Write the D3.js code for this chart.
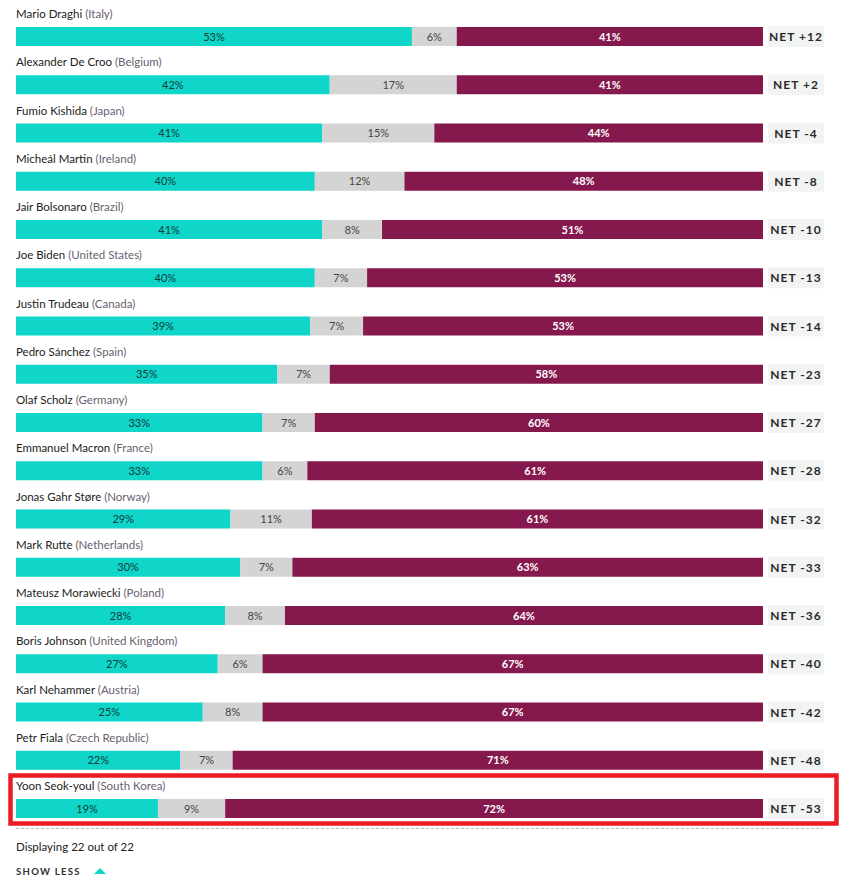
<!DOCTYPE html>
<html><head><meta charset="utf-8">
<script src="https://cdn.jsdelivr.net/npm/d3@7"></script>
<style>body{margin:0;background:#fff;} svg{display:block;}</style>
</head><body>
<svg id="chart" width="850" height="880"></svg>
<script>
const names = ["Mario Draghi","Alexander De Croo","Fumio Kishida","Micheál Martin","Jair Bolsonaro","Joe Biden","Justin Trudeau","Pedro Sánchez","Olaf Scholz","Emmanuel Macron","Jonas Gahr Støre","Mark Rutte","Mateusz Morawiecki","Boris Johnson","Karl Nehammer","Petr Fiala","Yoon Seok-youl"];
const countries = ["Italy","Belgium","Japan","Ireland","Brazil","United States","Canada","Spain","Germany","France","Norway","Netherlands","Poland","United Kingdom","Austria","Czech Republic","South Korea"];
const approve = [53,42,41,40,41,40,39,35,33,33,29,30,28,27,25,22,19];
const unsure = [6,17,15,12,8,7,7,7,7,6,11,7,8,6,8,7,9];
const disapprove = [41,41,44,48,51,53,53,58,60,61,61,63,64,67,67,71,72];
const netLabels = ["NET +12","NET +2","NET -4","NET -8","NET -10","NET -13","NET -14","NET -23","NET -27","NET -28","NET -32","NET -33","NET -36","NET -40","NET -42","NET -48","NET -53"];
const highlighted = "Yoon Seok-youl";
const footerText = "Displaying 22 out of 22";
const buttonText = "SHOW LESS";

const svg = d3.select("#chart");
const font = "Lato, 'Open Sans', sans-serif";
const colors = {approve:"#0fd6c9", unsure:"#d4d4d4", disapprove:"#85194d"};
const barLeft = 16, barRight = 763, barH = 19;

const y = d3.scaleBand().domain(names).range([0, 772 + 48.25]).paddingInner(0).paddingOuter(0);
const top0 = 3;

names.forEach((n, i) => {
  const row = svg.append("g").attr("transform", `translate(0,${top0 + y(n)})`);
  const vals = [approve[i], unsure[i], disapprove[i]];
  const total = d3.sum(vals);
  const x = d3.scaleLinear().domain([0, total]).range([barLeft, barRight]);
  const t = row.append("text").attr("x", barLeft).attr("y", 15)
    .attr("font-family", font).attr("font-size", 11.5).attr("fill", "#222");
  t.append("tspan").text(n + " ");
  t.append("tspan").attr("fill", "#6a6070").text("(" + countries[i] + ")");
  let acc = 0;
  const keys = ["approve","unsure","disapprove"];
  vals.forEach((v, k) => {
    const x0 = x(acc), x1 = x(acc + v);
    row.append("rect").attr("x", x0).attr("y", 24).attr("width", x1 - x0).attr("height", barH)
      .attr("fill", colors[keys[k]]);
    row.append("text").attr("x", (x0 + x1) / 2).attr("y", 24 + barH / 2 + 4)
      .attr("text-anchor", "middle").attr("font-family", font).attr("font-size", 11)
      .attr("font-weight", k === 2 ? 700 : 400)
      .attr("fill", k === 2 ? "#fff" : (k === 0 ? "#0d3b3a" : "#444"))
      .text(v + "%");
    acc += v;
  });
  row.append("rect").attr("x", 768).attr("y", 23).attr("width", 56).attr("height", 21).attr("fill", "#f2f3f3");
  row.append("text").attr("x", 796).attr("y", 24 + barH / 2 + 4.5).attr("text-anchor", "middle")
    .attr("font-family", font).attr("font-size", 12).attr("font-weight", 700).attr("letter-spacing", 1)
    .attr("fill", "#2a2a2a").text(netLabels[i]);
  if (n === highlighted) {
    row.append("rect").attr("x", 10.5).attr("y", 0.5).attr("width", 826).attr("height", 48)
      .attr("fill", "none").attr("stroke", "#ec1c24").attr("stroke-width", 4.5);
  }
});

svg.append("line").attr("x1", 16).attr("x2", 823).attr("y1", 828.5).attr("y2", 828.5)
  .attr("stroke", "#bbb").attr("stroke-dasharray", "3,2");
svg.append("text").attr("x", 16).attr("y", 851).attr("font-family", font).attr("font-size", 11.5)
  .attr("fill", "#222").text(footerText);
svg.append("text").attr("x", 16).attr("y", 875).attr("font-family", font).attr("font-size", 9.5)
  .attr("font-weight", 700).attr("letter-spacing", 1.3).attr("fill", "#333").text(buttonText);
svg.append("path").attr("d", "M94,874 L100,868 L106,874 Z").attr("fill", "#0fd6c9");
</script>
</body></html>
